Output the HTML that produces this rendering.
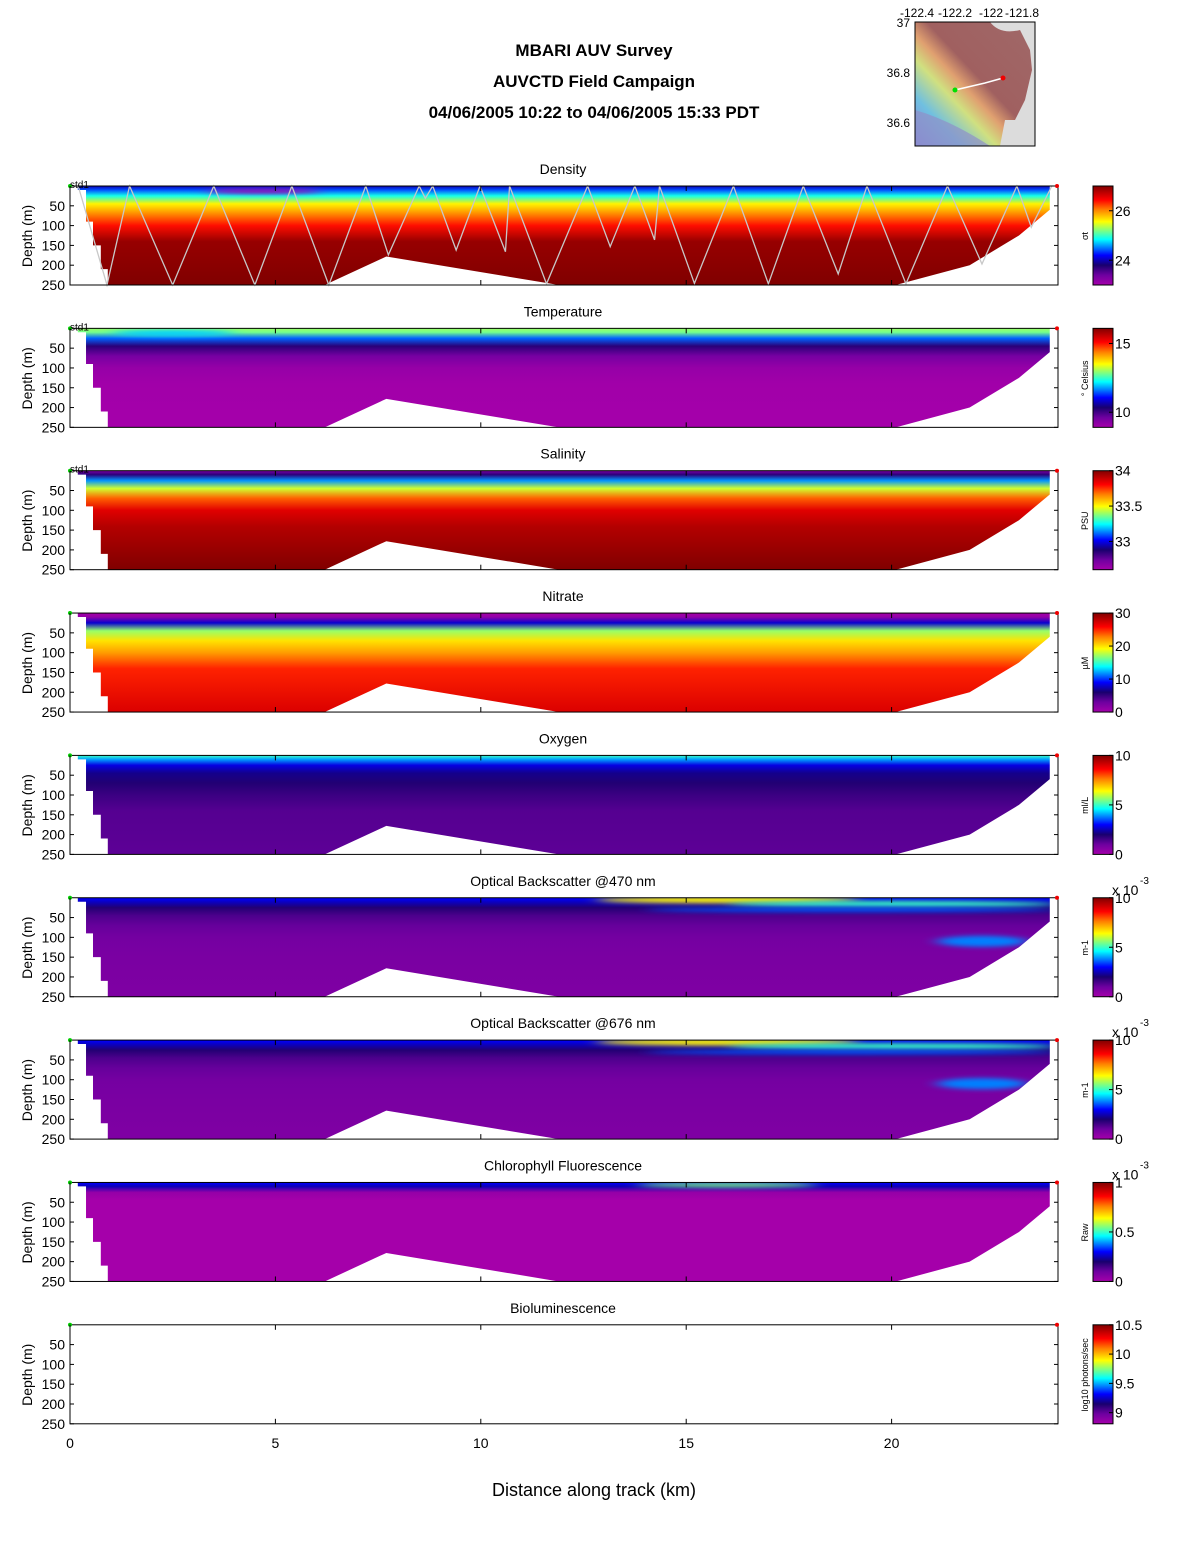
<!DOCTYPE html>
<html><head><meta charset="utf-8"><style>
body{margin:0;background:#fff;}
svg text{font-family:"Liberation Sans",sans-serif;}
</style></head><body>
<svg id="fig" width="1188" height="1548" viewBox="0 0 1188 1548" xmlns="http://www.w3.org/2000/svg">
<defs id="defs">
<filter id="blur" x="-50%" y="-100%" width="200%" height="300%"><feGaussianBlur stdDeviation="8 2.5"/></filter>
</defs>
<g font-weight="bold" font-size="17" text-anchor="middle">
<text x="594" y="56">MBARI AUV Survey</text>
<text x="594" y="87">AUVCTD Field Campaign</text>
<text x="594" y="118">04/06/2005 10:22  to 04/06/2005 15:33 PDT</text>
</g>
<g>
<defs><linearGradient id="mapg" x1="0" y1="1" x2="1" y2="0">
<stop offset="0" stop-color="#8080e0"/><stop offset="0.2" stop-color="#70c0e0"/><stop offset="0.35" stop-color="#d0e080"/><stop offset="0.45" stop-color="#e0a070"/><stop offset="0.55" stop-color="#a06060"/><stop offset="1" stop-color="#a06868"/></linearGradient></defs>
<rect x="915" y="22" width="120" height="124" fill="#dcdcdc"/>
<path d="M915,22 L990,22 Q1000,35 1020,30 L1030,50 L1032,70 L1025,100 L1015,120 L1005,120 L1000,146 L915,146 Z" fill="url(#mapg)"/>
<path d="M915,110 Q950,120 990,146 L915,146Z" fill="#9090c8" opacity="0.7"/>
<polyline points="955,90 985,83 1003,78" stroke="#fff" stroke-width="1.5" fill="none"/>
<circle cx="955" cy="90" r="2.5" fill="#00e000"/><circle cx="1003" cy="78" r="2.5" fill="#f00000"/>
<rect x="915" y="22" width="120" height="124" fill="none" stroke="#000"/>
<g font-size="12" text-anchor="middle">
<text x="917" y="17">-122.4</text><text x="955" y="17">-122.2</text><text x="991" y="17">-122</text><text x="1022" y="17">-121.8</text>
</g>
<g font-size="12" text-anchor="end"><text x="910" y="27">37</text><text x="910" y="77">36.8</text><text x="910" y="127">36.6</text></g>
</g>
<g id="panels"></g>
<g font-size="14" text-anchor="middle" id="xaxis"></g>
<text x="594" y="1496" font-size="18" text-anchor="middle">Distance along track (km)</text>
</svg>
<script>
// ---- data ----
const leftKm = [0.19, 0.39, 0.56, 0.75, 0.92];
const leftDepth = [10, 90, 150, 210, 250];
const bottomKm = [6.2, 7.7, 11.9, 20.1, 21.9, 23.1, 23.85, 23.85];
const bottomDepth = [250, 178, 250, 250, 200, 125, 60, 0];
const trackKm = [0.2,0.9,1.45,2.5,3.5,4.5,5.4,6.3,7.2,7.75,8.5,8.65,8.83,9.4,9.98,10.6,10.7,11.6,12.6,13.15,13.75,14.23,14.35,15.2,16.15,17.0,17.85,18.7,19.4,20.35,21.36,22.2,23.05,23.4,23.9];
const trackDepth = [0,250,0,250,0,250,0,250,0,174,0,31,0,162,0,166,0,247,0,153,0,136,0,246,0,247,0,222,0,247,0,197,0,104,0];
const panelTitles = ["Density","Temperature","Salinity","Nitrate","Oxygen","Optical Backscatter @470 nm","Optical Backscatter @676 nm","Chlorophyll Fluorescence","Bioluminescence"];
const panelUnits = ["σt","° Celsius","PSU","µM","ml/L","m-1","m-1","Raw","log10 photons/sec"];
const vMin = [23, 8.9, 32.6, 0, 0, 0, 0, 0, 8.81];
const vMax = [27, 16.1, 34.0, 30, 10, 10, 10, 1, 10.5];
const cbTicks = [[24,26],[10,15],[33,33.5,34],[0,10,20,30],[0,5,10],[0,5,10],[0,5,10],[0,0.5,1],[9,9.5,10,10.5]];
const profDepth = [0, 10, 25, 45, 70, 100, 140, 250];
const profValues = [
 [24.0, 24.4, 24.9, 25.6, 26.0, 26.4, 26.9, 27],
 [13.0, 12.8, 11.5, 10.2, 9.5, 9.1, 8.95, 8.9],
 [32.7, 32.85, 33.15, 33.45, 33.7, 33.85, 33.92, 34.0],
 [0, 1, 8, 17, 20, 22, 25, 27],
 [5.0, 4.0, 2.8, 2.2, 1.9, 1.6, 1.3, 1.2],
 [3.0, 2.6, 1.9, 1.4, 1.1, 0.9, 0.8, 0.7],
 [3.0, 2.6, 1.9, 1.4, 1.1, 0.9, 0.8, 0.7],
 [0.3, 0.25, 0.03, 0.0, 0.0, 0.0, 0.0, 0.0],
 null
];
// features: panel, km, depth, radius km, radius m, value
const featPanel = [0,1,5,5,5,5,6,6,6,6,7];
const featKm   = [4.7, 2.5, 16, 20, 19, 22.2, 16, 20, 19, 22.2, 16];
const featDep  = [13, 12, 5, 16, 30, 110, 5, 16, 30, 110, 6];
const featRkm  = [1.4, 1.5, 3.2, 4, 5, 1.1, 3.2, 4, 5, 1.1, 2.2];
const featRm   = [6, 8, 9, 8, 6, 14, 9, 8, 6, 14, 6];
const featVal  = [22.9, 12.0, 6.5, 5.0, 3.5, 3.8, 6.5, 5.0, 3.5, 3.8, 0.55];

// ---- scales ----
const X0=70, PXKM=41.08, PT0=186, PSTEP=142.35, PH=99, DPX=0.396;
const xs = km => X0 + km*PXKM;
const stops=[[0,[165,0,170]],[0.1,[110,0,160]],[0.2,[25,0,110]],[0.3,[0,0,255]],[0.38,[0,128,255]],[0.46,[0,255,255]],[0.55,[128,255,128]],[0.64,[255,255,0]],[0.76,[255,128,0]],[0.86,[255,0,0]],[1,[128,0,0]]];
function cmap(f){f=Math.max(0,Math.min(1,f));for(let i=1;i<stops.length;i++){if(f<=stops[i][0]){const a=stops[i-1],b=stops[i],t=(f-a[0])/(b[0]-a[0]);const c=a[1].map((v,k)=>Math.round(v+(b[1][k]-v)*t));return `rgb(${c})`;}}return 'rgb(128,0,0)';}
const NS="http://www.w3.org/2000/svg";
function mk(tag,attrs,parent){const e=document.createElementNS(NS,tag);for(const k in attrs)e.setAttribute(k,attrs[k]);parent.appendChild(e);return e;}
const defs=document.getElementById('defs'), root=document.getElementById('panels');

for(let p=0;p<9;p++){
  const top=PT0+p*PSTEP, ys=d=>top+d*DPX, val=v=>(v-vMin[p])/(vMax[p]-vMin[p]);
  const g=mk('g',{},root);
  
  
  const cp=mk('clipPath',{id:'clip'+p},defs);
  let pts=[xs(leftKm[0])+','+top];
  let prev=0;
  leftKm.forEach((k,i)=>{pts.push(xs(k)+','+ys(prev));pts.push(xs(k)+','+ys(leftDepth[i]));prev=leftDepth[i];});
  bottomKm.forEach((k,i)=>pts.push(xs(k)+','+ys(bottomDepth[i])));
  mk('polygon',{points:pts.join(' ')},cp);
  if(profValues[p]){
    const lg=mk('linearGradient',{id:'lg'+p,x1:0,y1:top,x2:0,y2:top+PH,gradientUnits:'userSpaceOnUse'},defs);
    profDepth.forEach((d,i)=>mk('stop',{offset:(d/250).toFixed(3),'stop-color':cmap(val(profValues[p][i]))},lg));
    const body=mk('g',{'clip-path':'url(#clip'+p+')'},g);
    const r=mk('rect',{x:X0,y:top,width:990,height:PH,fill:'url(#lg'+p+')'},body);
    
    
    featPanel.forEach((fp,i)=>{ if(fp!==p) return;
      const e=mk('ellipse',{cx:xs(featKm[i]),cy:ys(featDep[i]),rx:featRkm[i]*PXKM,ry:featRm[i]*DPX,fill:cmap(val(featVal[i])),filter:'url(#blur)'},body);
      
      
    });
    if(p===0){
      const tl=mk('polyline',{points:trackKm.map((k,i)=>xs(k)+','+ys(trackDepth[i])).join(' '),fill:'none',stroke:'#c8c8c8','stroke-width':1.3},g);
      
      
    }
  }
  const fr=mk('rect',{x:X0,y:top,width:988,height:PH,fill:'none',stroke:'#000','stroke-width':1},g);
  
  
  mk('circle',{cx:X0,cy:top,r:2,fill:'#0c0'},g);
  mk('circle',{cx:1057,cy:top,r:2,fill:'#e00'},g);
  if(p<3){const s=mk('text',{x:X0,y:top+2,'font-size':10},g);s.textContent='std1';}
  const t=mk('text',{x:563,y:top-12,'font-size':14,'text-anchor':'middle'},g);
  
  
  t.textContent=panelTitles[p];
  [50,100,150,200,250].forEach(d=>{
    const l=mk('text',{x:65,y:ys(d)+5,'font-size':14,'text-anchor':'end'},g);l.textContent=d;
    mk('line',{x1:X0,x2:X0+4,y1:ys(d),y2:ys(d),stroke:'#000'},g);
    mk('line',{x1:1058,x2:1054,y1:ys(d),y2:ys(d),stroke:'#000'},g);
  });
  [0,5,10,15,20].forEach(k=>{
    mk('line',{x1:xs(k),x2:xs(k),y1:top,y2:top+5,stroke:'#000'},g);
    mk('line',{x1:xs(k),x2:xs(k),y1:top+PH,y2:top+PH-5,stroke:'#000'},g);
  });
  const yl=mk('text',{transform:`translate(32,${top+50}) rotate(-90)`,'font-size':14,'text-anchor':'middle'},g);
  
  
  yl.textContent='Depth (m)';
  const cb=mk('g',{},g);
  
  
  const cg=mk('linearGradient',{id:'cg'+p,x1:0,y1:1,x2:0,y2:0},defs);
  stops.forEach(s=>mk('stop',{offset:s[0],'stop-color':`rgb(${s[1]})`},cg));
  mk('rect',{x:1093,y:top,width:20,height:PH,fill:'url(#cg'+p+')',stroke:'#000'},cb);
  cbTicks[p].forEach(v=>{const y=top+PH-val(v)*PH;
    mk('line',{x1:1113,x2:1109,y1:y,y2:y,stroke:'#000'},cb);
    const l=mk('text',{x:1115,y:y+5,'font-size':14},cb);l.textContent=v;});
  const u=mk('text',{transform:`translate(1088,${top+50}) rotate(-90)`,'font-size':9,'text-anchor':'middle'},cb);
  u.textContent=panelUnits[p];
  if(p>=5&&p<=7){const x=mk('text',{x:1112,y:top-3,'font-size':14},cb);x.textContent='x 10';
    const e=mk('text',{x:1140,y:top-14,'font-size':10},cb);e.textContent='-3';}
}
const xa=document.getElementById('xaxis');
[0,5,10,15,20].forEach(k=>{const t=mk('text',{x:xs(k),y:1448},xa);t.textContent=k;});
</script>
</body></html>
